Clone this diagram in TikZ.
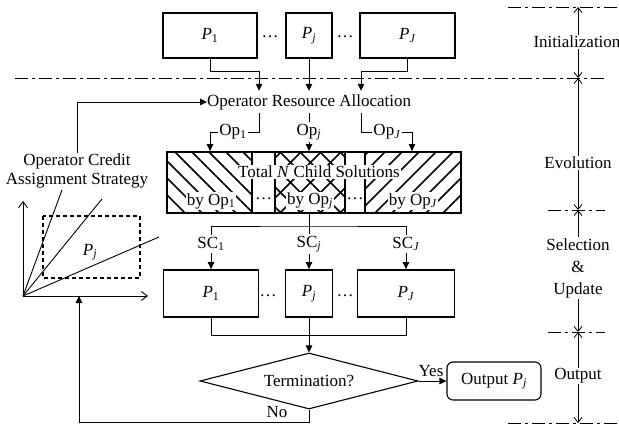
\documentclass[tikz,border=0pt]{standalone}
\usepackage{fontspec}
\setmainfont{Liberation Serif}
\usetikzlibrary{shapes.geometric,arrows.meta}

\newcommand\Pv[1]{\textit{P}\textsubscript{#1}}
\newcommand\Opv[1]{Op\textsubscript{#1}}

\begin{document}
\begin{tikzpicture}[x=1pt,y=-1pt,
  font=\fontsize{17}{19}\selectfont,
  popbox/.style={draw, line width=1.8pt, inner sep=0pt},
  lab/.style={inner sep=1.5pt},
  clear/.style={fill=white, inner sep=1pt},
  link/.style={line width=0.9pt},
  flow/.style={line width=0.9pt, -{Triangle[length=7pt,width=6.5pt]}},
  dimarrow/.style={line width=0.8pt, {Straight Barb[length=5pt,width=8pt]}-{Straight Barb[length=5pt,width=8pt]}},
  axis/.style={line width=0.9pt, -{Straight Barb[length=6pt,width=9pt]}},
  phase/.style={line width=0.8pt, dash pattern=on 13pt off 4pt on 3pt off 4pt},
  hatch/.style={line width=1.6pt},
]
\useasboundingbox (0,0) rectangle (619,433);

% phase separators
\draw[phase] (508,7) -- (617,7);
\draw[phase] (15,78) -- (607,78);
\draw[phase] (548,210) -- (605,210);
\draw[phase] (548,332) -- (605,332);
\draw[phase] (508,423) -- (617,423);

% phase extents and names
\draw[dimarrow] (578,7) -- (578,78);
\draw[dimarrow] (578,78) -- (578,210);
\draw[dimarrow] (578,210) -- (578,332);
\draw[dimarrow] (578,332) -- (578,423);
\node[clear] (lini) at (577,42) {Initialization};
\node[clear] (levo) at (578,163) {Evolution};
\node[clear, align=center, font=\fontsize{17}{22}\selectfont] (lsel) at (578,268) {Selection\\\&\\Update};
\node[clear] (lout) at (578,376) {Output};

% initial populations
\node[popbox, minimum width=94pt, minimum height=45pt] (t1) at (210,35.5) {\Pv{1}};
\node[popbox, minimum width=46pt, minimum height=45pt] (tj) at (309,35.5) {\Pv{\textit{j}}};
\node[popbox, minimum width=95pt, minimum height=45pt] (tJ) at (407.5,35.5) {\Pv{\textit{J}}};
\node (td1) at (270,37) {\dots};
\node (td2) at (345,37) {\dots};

% column positions of the bent connectors
\coordinate (xa) at (259,0);
\coordinate (xb) at (361,0);
\coordinate (xc) at (412,0);

\node[inner sep=0pt, minimum height=22pt, anchor=west] (ora) at (207,102) {Operator Resource Allocation};

\draw[flow] (t1.south) -- ++(0,13) -| (ora.north -| xa);
\draw[flow] (tj.south) -- (ora.north -| tj.south);
\draw[flow] (tJ.south) -- ++(0,13) -| (ora.north -| xb);

% offspring block with hatched parts
\begin{scope}
  \clip (167,152) rectangle (252,213);
  \foreach \x in {90,107,...,260} \draw[hatch] (\x,152) -- ++(61,61);
\end{scope}
\begin{scope}
  \clip (275,152) rectangle (345,213);
  \foreach \x in {200,220,...,360} {
    \draw[hatch] (\x,152) -- ++(61,61);
    \draw[hatch] (\x,213) -- ++(61,-61);
  }
\end{scope}
\begin{scope}
  \clip (365,152) rectangle (461,213);
  \foreach \x in {290,307,...,470} \draw[hatch] (\x,213) -- ++(61,-61);
\end{scope}
\foreach \x in {252,275,345,365} \draw[line width=1.4pt] (\x,152) -- (\x,213);
\node[draw, line width=1.8pt, minimum width=294pt, minimum height=61pt, inner sep=0pt] (blk) at (314,182.5) {};
\node[clear] (tot) at (319,172) {Total \textit{N} Child Solutions};
\node[clear] (by1) at (211,201) {by \Opv{1}};
\node (bd1) at (263.5,199) {\dots};
\node[clear] (byj) at (310,201) {by \Opv{\textit{j}}};
\node (bd2) at (355,199) {\dots};
\node[clear] (byJ) at (413,201) {by \Opv{\textit{J}}};

% operator shares
\node[lab] (op1) at (233,132) {\Opv{1}};
\node[lab] (opj) at (309,132) {\Opv{\textit{j}}};
\node[lab] (opJ) at (387,132) {\Opv{\textit{J}}};
\draw[link] (ora.south -| xa) |- (op1.east);
\draw[flow] (op1.west) -| (blk.north -| t1.south);
\draw[link] (ora.south -| tj.south) -- (opj.north);
\draw[flow] (opj.south) -- (blk.north -| tj.south);
\draw[link] (ora.south -| xb) |- (opJ.west);
\draw[flow] (opJ.east) -| (blk.north -| xc);

% selection into the populations
\node[lab] (sc1) at (211,244) {SC\textsubscript{1}};
\node[lab] (scj) at (309,244) {SC\textsubscript{\textit{j}}};
\node[lab] (scJ) at (406,244) {SC\textsubscript{\textit{J}}};
\coordinate (split) at (309,226);
\draw[link] (blk.south -| tj.south) -- (split);
\draw[link] (sc1.north) |- (split) -| (scJ.north);
\draw[link] (split) -- (scj.north);

\node[popbox, minimum width=95pt, minimum height=47pt] (b1) at (211,293.5) {\Pv{1}};
\node[popbox, minimum width=47pt, minimum height=47pt] (bj) at (309,293.5) {\Pv{\textit{j}}};
\node[popbox, minimum width=97pt, minimum height=47pt] (bJ) at (406,293.5) {\Pv{\textit{J}}};
\node (bd3) at (268,296) {\dots};
\node (bd4) at (345,296) {\dots};
\draw[flow] (sc1.south) -- (b1.north);
\draw[flow] (scj.south) -- (bj.north);
\draw[flow] (scJ.south) -- (bJ.north);

% termination test
\node[draw, diamond, aspect=3.9, minimum width=218pt, minimum height=56pt, inner sep=0pt, line width=1.1pt] (dia) at (309,381) {Termination?};
\node[draw, rounded corners=6pt, minimum width=94pt, minimum height=38pt, line width=1.1pt] (out) at (494,381) {Output \Pv{\textit{j}}};
\draw[link] (b1.south) -- ++(0,18) -| (bJ.south);
\draw[flow] (bj.south) -- (dia.north);
\draw[flow] (dia.east) -- (out.west);
\node[lab] (yes) at (431,371) {Yes};

% credit assignment
\node[align=center, inner sep=1pt] (ocas) at (77,171) {Operator Credit\\Assignment Strategy};
\draw[flow] (ocas.north) |- (ora.west);
\coordinate (o) at (23,296);
\coordinate (noend) at (79,296);
\draw[axis] (o) -- (23,201);
\draw[axis] (o) -- (148,296);
\draw[link] (o) -- (62,190);
\draw[link] (o) -- (102,199);
\draw[link] (o) -- (159,237);
\draw[line width=1.6pt, dash pattern=on 4pt off 3pt] (43,216) rectangle (140,278);
\node (pjl) at (90,252) {\Pv{\textit{j}}};

% loop back
\draw[flow] (dia.south) -- ++(0,13) -| (noend);
\node[lab] (no) at (277,412) {No};
\end{tikzpicture}
\end{document}
